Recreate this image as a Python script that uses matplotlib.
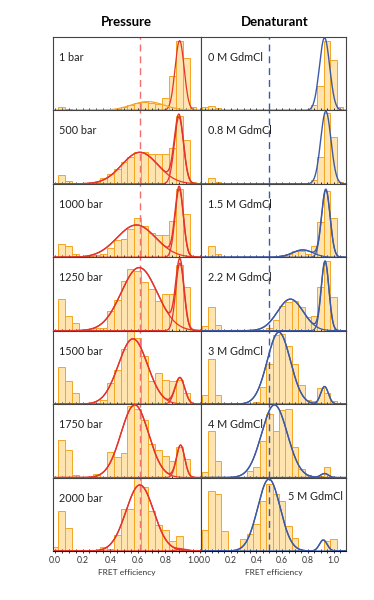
import numpy as np
import matplotlib.pyplot as plt
from matplotlib.ticker import MultipleLocator

plt.rcParams['font.family'] = ['Lato', 'DejaVu Sans']

# histogram bin centres (FRET efficiency)
BINS = [0.0, 0.05, 0.1, 0.15, 0.2, 0.25, 0.3, 0.35, 0.4, 0.45, 0.5,
        0.55, 0.6, 0.65, 0.7, 0.75, 0.8, 0.85, 0.9, 0.95, 1.0, 1.05]

pressure_labels = ['1 bar', '500 bar', '1000 bar', '1250 bar', '1500 bar', '1750 bar', '2000 bar']
denat_labels = ['0 M GdmCl', '0.8 M GdmCl', '1.5 M GdmCl', '2.2 M GdmCl', '3 M GdmCl', '4 M GdmCl', '5 M GdmCl']

# pressure series (bar heights, fraction of panel height)
p_1 = [0, 0.05, 0.02, 0, 0, 0, 0, 0, 0, 0.02, 0.04, 0.07, 0.1, 0.11, 0.1, 0.09, 0.17, 0.47, 0.94, 0.71, 0.05, 0]
p_500 = [0, 0.12, 0.035, 0, 0.005, 0.01, 0.03, 0.08, 0.13, 0.2, 0.3, 0.37, 0.44, 0.43, 0.4, 0.4, 0.4, 0.49, 0.93, 0.6, 0.03, 0]
p_1000 = [0, 0.18, 0.15, 0.045, 0.015, 0.02, 0.035, 0.05, 0.13, 0.24, 0.25, 0.38, 0.54, 0.43, 0.33, 0.31, 0.3, 0.5, 0.93, 0.59, 0.02, 0]
p_1250 = [0, 0.43, 0.2, 0.1, 0, 0.01, 0.035, 0.04, 0.27, 0.42, 0.68, 0.84, 0.82, 0.66, 0.57, 0.41, 0.5, 0.5, 0.9, 0.59, 0, 0]
p_1500 = [0, 0.5, 0.32, 0.15, 0, 0, 0.02, 0.06, 0.29, 0.46, 0.75, 1.05, 0.9, 0.65, 0.31, 0.42, 0.33, 0.32, 0.33, 0.15, 0, 0]
p_1750 = [0, 0.51, 0.38, 0.04, 0, 0, 0.055, 0, 0.35, 0.28, 0.33, 0.97, 0.94, 0.79, 0.46, 0.38, 0.3, 0.23, 0.41, 0.25, 0, 0]
p_2000 = [0.05, 0.55, 0.31, 0, 0, 0, 0, 0.06, 0.03, 0.22, 0.57, 0.57, 1.05, 0.87, 0.55, 0.36, 0.28, 0.14, 0.2, 0, 0, 0]

# denaturant series
d_0 = [0.04, 0.055, 0.03, 0, 0, 0, 0, 0, 0, 0, 0, 0, 0, 0, 0, 0, 0.01, 0.08, 0.33, 0.94, 0.68, 0.04]
d_08 = [0, 0.08, 0.02, 0, 0, 0, 0, 0, 0, 0, 0, 0, 0, 0, 0, 0, 0, 0.05, 0.36, 0.96, 0.64, 0.02]
d_15 = [0, 0.15, 0.05, 0, 0, 0, 0, 0, 0, 0, 0, 0, 0.03, 0.05, 0.08, 0.09, 0.05, 0.16, 0.48, 0.9, 0.54, 0.02]
d_22 = [0.07, 0.32, 0.08, 0, 0, 0, 0, 0, 0, 0, 0.04, 0.14, 0.33, 0.39, 0.41, 0.32, 0.18, 0.2, 0.6, 0.95, 0.46, 0]
d_3 = [0.13, 0.61, 0.13, 0, 0, 0, 0, 0, 0.03, 0.23, 0.55, 0.94, 0.95, 0.79, 0.54, 0.26, 0.05, 0.04, 0.22, 0.15, 0.04, 0]
d_4 = [0.07, 0.63, 0.23, 0, 0, 0, 0, 0.09, 0.15, 0.5, 0.87, 0.64, 0.92, 0.93, 0.41, 0.12, 0.03, 0, 0.02, 0.14, 0, 0]
d_5 = [0.28, 0.82, 0.77, 0.27, 0.02, 0, 0.16, 0.23, 0.37, 0.68, 0.91, 0.78, 0.68, 0.34, 0.18, 0, 0, 0, 0, 0.14, 0.17, 0]

pressure_counts = [p_1, p_500, p_1000, p_1250, p_1500, p_1750, p_2000]
denat_counts = [d_0, d_08, d_15, d_22, d_3, d_4, d_5]

# gaussian fits: (centre, amplitude, width)
pressure_fits = [
    [(0.903, 0.95, 0.033), (0.67, 0.12, 0.12)],
    [(0.615, 0.43, 0.13), (0.898, 0.91, 0.033)],
    [(0.59, 0.44, 0.14), (0.90, 0.93, 0.03)],
    [(0.61, 0.86, 0.13), (0.905, 0.92, 0.03)],
    [(0.565, 0.89, 0.105), (0.905, 0.36, 0.035)],
    [(0.578, 0.99, 0.10), (0.91, 0.44, 0.03)],
    [(0.615, 0.90, 0.10), (0.92, 0.02, 0.04)],
]
denat_fits = [
    [(0.93, 0.99, 0.04)],
    [(0.94, 0.99, 0.04)],
    [(0.76, 0.10, 0.08), (0.94, 0.92, 0.033)],
    [(0.664, 0.43, 0.10), (0.934, 0.94, 0.03)],
    [(0.574, 0.98, 0.09), (0.93, 0.24, 0.03)],
    [(0.54, 0.99, 0.10), (0.93, 0.055, 0.03)],
    [(0.497, 0.98, 0.087), (0.92, 0.15, 0.03)],
]

PRESSURE_REF = 0.614
DENAT_REF = 0.5

RED = '#E4342C'
ORANGE = '#F4A52A'
BLUE = '#3D5AA6'
BAR_FACE = '#FFE4AF'
BAR_EDGE = '#F5A623'
SPINE = '#444444'


def gauss(x, mu, amp, sd):
    return amp * np.exp(-0.5 * ((x - mu) / sd) ** 2)


fig = plt.figure(figsize=(3.74, 6.0), dpi=100)

top = 1 - 37 / 600
bottom = 1 - 551 / 600
row_h = (top - bottom) / 7
cols = [(52.5 / 374, 148.5 / 374, (-0.018, 1.058)),
        (201 / 374, 145 / 374, (-0.032, 1.097))]

xs = np.linspace(-0.1, 1.2, 600)

for c, (x0, w, xlim) in enumerate(cols):
    counts_all = pressure_counts if c == 0 else denat_counts
    fits_all = pressure_fits if c == 0 else denat_fits
    labels = pressure_labels if c == 0 else denat_labels
    line_col = RED if c == 0 else BLUE
    for r in range(7):
        ax = fig.add_axes([x0, top - (r + 1) * row_h, w, row_h])
        ax.bar(BINS, counts_all[r], width=0.05, color=BAR_FACE,
               edgecolor=BAR_EDGE, linewidth=0.7, zorder=1)
        if c == 0:
            ax.axvline(PRESSURE_REF, color='#F07070', lw=1.0,
                       ls=(0, (5, 3.5)), zorder=2)
        else:
            ax.axvline(DENAT_REF, color=BLUE, lw=1.0,
                       ls=(0, (5, 3.5)), zorder=2)

        fits = fits_all[r]
        if c == 0 and r == 0:
            # 1 bar: folded peak in red, minor population in orange
            ax.plot(xs, gauss(xs, *fits[0]), color=RED, lw=0.9, zorder=3)
            ax.plot(xs, gauss(xs, *fits[1]), color=ORANGE, lw=0.9, zorder=3)
        else:
            total = np.zeros_like(xs)
            for f in fits:
                comp = gauss(xs, *f)
                total += comp
                if len(fits) > 1:
                    ax.plot(xs, comp, color=line_col, lw=0.9, zorder=3)
            ax.plot(xs, total, color=line_col, lw=1.0, zorder=3)

        ax.set_xlim(*xlim)
        ax.set_ylim(0, 1.0)
        ax.set_yticks([])
        for s in ax.spines.values():
            s.set_color(SPINE)
            s.set_linewidth(0.8)
        ax.spines['bottom'].set_color('#111111')
        ax.xaxis.set_major_locator(MultipleLocator(0.2))
        ax.xaxis.set_minor_locator(MultipleLocator(0.05))
        ax.tick_params(axis='x', which='both', direction='inout',
                       length=3.5, width=0.6, color='#111111')
        if r < 6:
            ax.tick_params(axis='x', labelbottom=False)
        else:
            ax.tick_params(axis='x', labelsize=6.2, pad=1.5, labelcolor='#333333')
            ax.set_xlabel('FRET efficiency', fontsize=6, labelpad=3, color='#333333')

        if c == 1 and r == 6:
            ax.text(0.6, 0.74, labels[r], transform=ax.transAxes,
                    fontsize=7.8, color='#222222', va='center', ha='left')
        else:
            ax.text(0.045, 0.72, labels[r], transform=ax.transAxes,
                    fontsize=7.8, color='#222222', va='center', ha='left')

fig.text(126 / 374, 1 - 22 / 600, 'Pressure', fontsize=9.5,
         fontweight='bold', ha='center', va='center')
fig.text(275 / 374, 1 - 22 / 600, 'Denaturant', fontsize=9.5,
         fontweight='bold', ha='center', va='center')

fig.savefig('out.png', dpi=100)
